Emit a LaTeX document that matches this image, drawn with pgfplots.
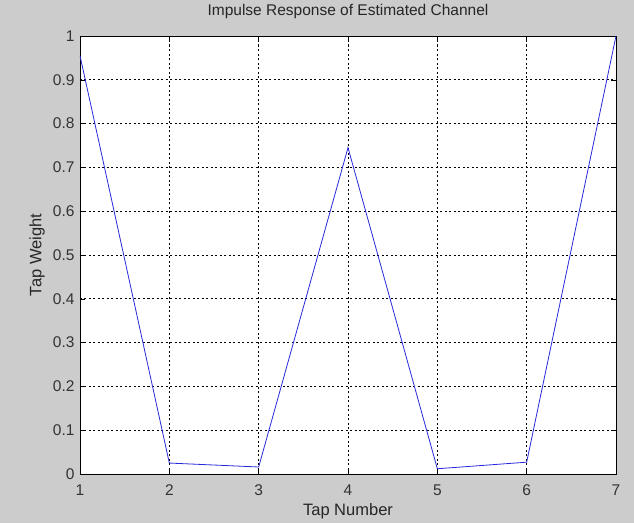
\documentclass[border=0pt]{standalone}
\usepackage{fontspec}
\setmainfont{Liberation Sans}
\usepackage{pgfplots}
\pgfplotsset{compat=1.18}
\definecolor{bggray}{RGB}{204,204,204}
\definecolor{mblue}{RGB}{40,40,220}
\begin{document}
\begin{tikzpicture}[x=1pt,y=1pt]
\fill[bggray] (-80,-49) rectangle (554,474);
\begin{axis}[
  at={(0,0)}, anchor=south west,
  scale only axis, width=536pt, height=438pt,
  xmin=1, xmax=7, ymin=0, ymax=1,
  xtick={1,...,7}, ytick={0,0.1,...,1},
  yticklabels={0,0.1,0.2,0.3,0.4,0.5,0.6,0.7,0.8,0.9,1},
  axis background/.style={fill=white},
  grid=major,
  major grid style={black, dash pattern=on 2pt off 2.5pt, line width=0.7pt},
  tick align=inside, major tick length=5pt,
  tick style={black, line width=0.6pt},
  axis line style={black, line width=0.8pt},
  tick label style={font=\fontsize{15.5}{17}\selectfont, text=black!80},
  xticklabel style={anchor=center, yshift=-16pt},
  yticklabel style={xshift=-2pt},
  /pgf/number format/assume math mode=true,
  title={Impulse Response of Estimated Channel},
  title style={font=\fontsize{15.5}{17}\selectfont, text=black!85, at={(rel axis cs:0.5,1)}, anchor=center, yshift=19pt},
  xlabel={Tap Number}, ylabel={Tap Weight},
  label style={font=\fontsize{16.5}{18}\selectfont, text=black!85},
  xlabel style={at={(rel axis cs:0.5,0)}, anchor=center, yshift=-37pt},
  ylabel style={at={(rel axis cs:0,0.5)}, anchor=center, yshift=43pt},
]
\addplot[mblue, line width=0.8pt] coordinates {
(1,0.955) (2,0.025) (3,0.016) (4,0.745) (5,0.012) (6,0.027) (7,1.0)
};
\end{axis}
\end{tikzpicture}
\end{document}
